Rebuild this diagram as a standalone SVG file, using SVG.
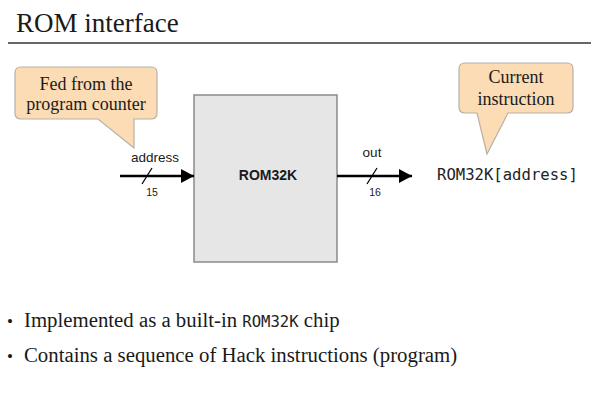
<svg xmlns="http://www.w3.org/2000/svg" width="591" height="403" viewBox="0 0 591 403">
<style>
.serif{font-family:"Liberation Serif","Times New Roman",serif;fill:#1a1a1a}
.sans{font-family:"Liberation Sans",Arial,sans-serif;fill:#1a1a1a}
.mono{font-family:"DejaVu Sans Mono","Liberation Mono",monospace;fill:#222}
.callout{fill:#fbdcb5;stroke:#b8b0a8;stroke-width:1.2}
.wire{stroke:#000;stroke-width:2.5;fill:none}
.slash{stroke:#000;stroke-width:1.3}
</style>
<defs>
<marker id="arr" markerWidth="13" markerHeight="14" refX="13" refY="7" orient="auto" markerUnits="userSpaceOnUse">
<path d="M0,0 L13,7 L0,14 z" fill="#000"/>
</marker>
</defs>
<rect width="591" height="403" fill="#fff"/>
<g id="title">
<text class="serif" x="16" y="32" font-size="27">ROM interface</text>
<line x1="8" y1="43" x2="591" y2="43" stroke="#333" stroke-width="1.5"/>
</g>
<g id="callout-pc">
<path class="callout" d="M21,67 H151 Q157,67 157,73 V113 Q157,119 151,119 H134 V148 L98,119 H21 Q15,119 15,113 V73 Q15,67 21,67 Z"/>
<text class="serif" x="86" y="90" font-size="18" text-anchor="middle">Fed from the</text>
<text class="serif" x="86" y="110" font-size="18" text-anchor="middle">program counter</text>
</g>
<g id="callout-instr">
<path class="callout" d="M465,63 H567 Q573,63 573,69 V107 Q573,113 567,113 H508 L487,154 L477,113 H465 Q459,113 459,107 V69 Q459,63 465,63 Z"/>
<text class="serif" x="516" y="83" font-size="18" text-anchor="middle">Current</text>
<text class="serif" x="516" y="105" font-size="18" text-anchor="middle">instruction</text>
</g>
<g id="rom32k">
<rect x="194" y="95" width="143" height="167" fill="#e6e6e6" stroke="#8a8a8a" stroke-width="1.5"/>
<text class="sans" x="268" y="180" font-size="14" font-weight="bold" text-anchor="middle">ROM32K</text>
</g>
<g id="connectors">
<line class="wire" x1="120" y1="176" x2="194" y2="176" marker-end="url(#arr)"/>
<line class="slash" x1="142" y1="184" x2="152" y2="168"/>
<text class="sans" x="155" y="162" font-size="13.5" text-anchor="middle">address</text>
<text class="sans" x="152" y="196" font-size="10.5" fill="#444" text-anchor="middle">15</text>
<line class="wire" x1="337" y1="176" x2="412" y2="176" marker-end="url(#arr)"/>
<line class="slash" x1="367" y1="184" x2="377" y2="168"/>
<text class="sans" x="372" y="157" font-size="13.5" text-anchor="middle">out</text>
<text class="sans" x="375" y="196" font-size="10.5" fill="#444" text-anchor="middle">16</text>
</g>
<g id="output-label">
<text class="mono" x="437" y="180" font-size="15.6">ROM32K[address]</text>
</g>
<g id="bullets">
<text class="serif" x="7" y="327" font-size="17">•</text>
<text class="serif" x="24" y="327" font-size="20.8">Implemented as a built-in <tspan class="mono" font-size="15.6">ROM32K</tspan> chip</text>
<text class="serif" x="7" y="362" font-size="17">•</text>
<text class="serif" x="24" y="362" font-size="20.8">Contains a sequence of Hack instructions (program)</text>
</g>
</svg>
